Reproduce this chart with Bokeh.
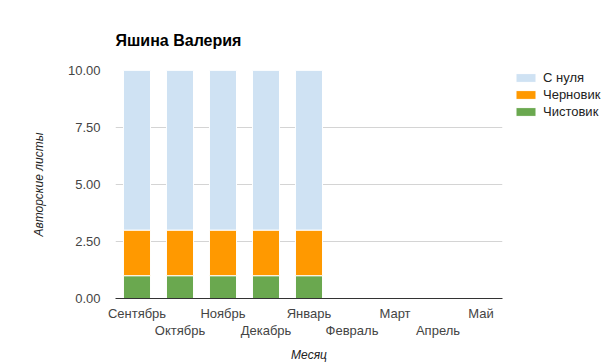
from bokeh.plotting import figure
from bokeh.models import (ColumnDataSource, Range1d, LinearAxis, FixedTicker, Legend,
                          LegendItem, NumeralTickFormatter)
from bokeh.embed import file_html
from bokeh.resources import INLINE

months = ["Сентябрь", "Октябрь", "Ноябрь", "Декабрь", "Январь", "Февраль", "Март", "Апрель", "Май"]
clean = [1, 1, 1, 1, 1, 0, 0, 0, 0]          # Чистовик
draft = [2, 2, 2, 2, 2, 0, 0, 0, 0]          # Черновик
scratch = [7, 7, 7, 7, 7, 0, 0, 0, 0]        # С нуля
series_names = ["Чистовик", "Черновик", "С нуля"]
colors = ["#6aa84f", "#ff9900", "#cfe2f3"]
y_ticks = [0, 2.5, 5, 7.5, 10]

FONT = "Liberation Sans"

src = ColumnDataSource(dict(x=list(range(len(months))), clean=clean, draft=draft, scratch=scratch))

p = figure(width=605, height=363, output_backend="svg", toolbar_location=None,
           x_axis_type=None, x_range=Range1d(-0.5, len(months) - 0.5), y_range=Range1d(0, 10),
           frame_width=387, frame_height=228,
           min_border_left=115, min_border_top=70, min_border_right=103, min_border_bottom=65)
p.outline_line_color = None

stack_cols = ["clean", "draft", "scratch"]
renderers = p.vbar_stack(stack_cols, x="x", width=0.63, source=src,
                         fill_color=colors, line_color="white", line_width=1)

# title
p.title.text = "Яшина Валерия"
p.title.text_font = FONT
p.title.text_font_size = "16px"
p.title.text_font_style = "bold"
p.title.text_color = "#000000"
p.title.standoff = 43

# y axis
yax = p.yaxis[0]
yax.ticker = FixedTicker(ticks=y_ticks)
yax.formatter = NumeralTickFormatter(format="0.00")
yax.axis_line_color = None
yax.major_tick_line_color = None
yax.minor_tick_line_color = None
yax.major_label_text_font = FONT
yax.major_label_text_font_size = "13px"
yax.major_label_text_color = "#444444"
yax.major_label_standoff = 9
yax.axis_label = "Авторские листы"
yax.axis_label_text_font = FONT
yax.axis_label_text_font_size = "12px"
yax.axis_label_text_font_style = "italic"
yax.axis_label_text_color = "#222222"
yax.axis_label_standoff = 19

p.ygrid.ticker = FixedTicker(ticks=y_ticks[1:])
p.ygrid.grid_line_color = "#d4d4d4"

# x axes (staggered labels)
even = [i for i in range(len(months)) if i % 2 == 0]
odd = [i for i in range(len(months)) if i % 2 == 1]

ax1 = LinearAxis(ticker=FixedTicker(ticks=even),
                 major_label_overrides={i: months[i] for i in even})
ax1.axis_line_color = "#333333"
ax2 = LinearAxis(ticker=FixedTicker(ticks=odd),
                 major_label_overrides={i: months[i] for i in odd})
ax2.axis_line_color = None
for ax in (ax1, ax2):
    ax.major_tick_line_color = None
    ax.minor_tick_line_color = None
    ax.major_label_text_font = FONT
    ax.major_label_text_font_size = "13px"
    ax.major_label_text_color = "#444444"
ax1.major_label_standoff = 1
ax2.major_label_standoff = -7
ax2.axis_label = "Месяц"
ax2.axis_label_text_font = FONT
ax2.axis_label_text_font_size = "12px"
ax2.axis_label_text_font_style = "italic"
ax2.axis_label_text_color = "#222222"
ax2.axis_label_standoff = 7
p.add_layout(ax1, "below")
p.add_layout(ax2, "below")

# legend in the right panel
items = [LegendItem(label=series_names[i], renderers=[renderers[i]]) for i in (2, 1, 0)]
legend = Legend(items=items, location=(11, 179))
legend.background_fill_alpha = 0
legend.border_line_color = None
legend.label_text_font = FONT
legend.label_text_font_size = "13px"
legend.label_text_color = "#222222"
legend.glyph_width = 25
legend.glyph_height = 11
legend.spacing = 2
legend.label_standoff = 5
legend.padding = 0
legend.margin = 0
p.add_layout(legend, "right")

open("out.html", "w").write(file_html(p, INLINE))
